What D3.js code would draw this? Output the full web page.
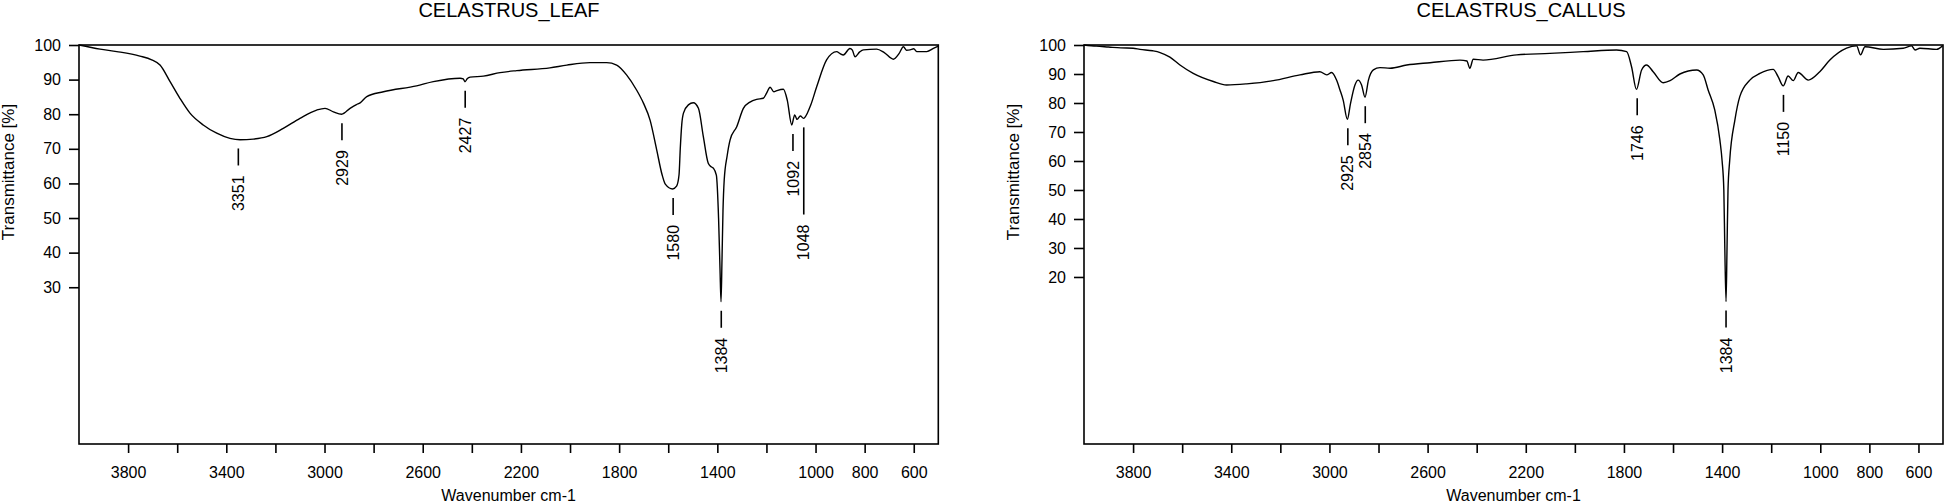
<!DOCTYPE html>
<html>
<head>
<meta charset="utf-8">
<script src="https://cdn.jsdelivr.net/npm/d3@7"></script>
<style>
  html, body { margin: 0; padding: 0; background: #fff; }
  text { font-family: "Liberation Sans", Arial, sans-serif; fill: #000; }
</style>
</head>
<body>
<div id="canvas"></div>
<script>
// ---- data ----
const leafWn = [4000, 3914, 3846, 3752, 3704, 3670, 3629, 3589, 3548, 3494, 3439, 3385, 3344, 3290, 3235, 3168, 3100, 3032, 2998, 2964, 2930, 2896, 2870, 2855, 2828, 2760, 2625, 2557, 2448, 2435, 2428, 2418, 2407, 2353, 2285, 2217, 2082, 2013, 1919, 1851, 1810, 1769, 1729, 1701, 1674, 1647, 1625, 1612, 1582, 1566, 1556, 1551, 1545, 1538, 1518, 1498, 1477, 1457, 1437, 1425, 1416, 1404, 1395, 1389, 1385, 1381, 1377, 1372, 1360, 1348, 1321, 1294, 1267, 1240, 1213, 1200, 1185, 1170, 1158, 1131, 1115, 1097, 1085, 1075, 1062, 1049, 1022, 995, 955, 914, 900, 887, 860, 850, 839, 820, 805, 751, 720, 683, 660, 642, 630, 615, 600, 588, 547, 520, 500];
const leafT = [100, 98.8, 98.1, 96.8, 95.7, 94.2, 89.4, 84.6, 80.3, 76.9, 74.5, 73.0, 72.6, 72.8, 73.5, 75.9, 78.8, 81.2, 81.7, 80.7, 80.0, 81.7, 82.8, 83.3, 85.1, 86.5, 88.2, 89.4, 90.4, 90.2, 89.4, 90.3, 90.7, 91.0, 92.0, 92.6, 93.4, 94.2, 94.9, 94.9, 94.2, 91.3, 87.0, 83.2, 78.3, 69.7, 62.5, 59.8, 58.4, 59.2, 62.5, 70.0, 77.0, 80.3, 82.7, 83.3, 81.7, 73.5, 65.8, 64.8, 64.4, 62.4, 50.0, 35.0, 25.8, 38.0, 52.0, 61.0, 68.0, 72.6, 76.4, 81.7, 83.5, 84.3, 84.6, 86.0, 87.8, 86.5, 86.8, 87.2, 84.0, 76.9, 79.8, 78.5, 79.5, 78.8, 82.2, 88.0, 95.7, 98.1, 97.5, 97.1, 99.0, 98.5, 96.6, 98.0, 98.6, 98.8, 97.8, 95.9, 97.5, 99.5, 98.5, 98.6, 98.9, 98.1, 98.1, 99.0, 99.7];

const callusWn = [4000, 3950, 3900, 3850, 3800, 3772, 3720, 3690, 3650, 3609, 3555, 3473, 3419, 3337, 3229, 3120, 3039, 3011, 2991, 2971, 2957, 2944, 2927, 2914, 2896, 2883, 2869, 2855, 2841, 2821, 2794, 2753, 2685, 2590, 2468, 2440, 2428, 2414, 2374, 2237, 2102, 1966, 1830, 1789, 1769, 1749, 1728, 1708, 1681, 1640, 1612, 1572, 1504, 1477, 1457, 1430, 1409, 1400, 1393, 1389, 1384, 1380, 1376, 1369, 1348, 1328, 1287, 1246, 1192, 1172, 1151, 1131, 1110, 1090, 1049, 1002, 961, 893, 852, 836, 818, 743, 662, 628, 614, 594, 526, 502];
const callusT = [100, 99.6, 99.3, 99.0, 98.9, 98.5, 98.0, 97.4, 95.8, 93.1, 90.2, 87.4, 86.2, 86.6, 87.7, 89.7, 90.8, 89.7, 90.5, 87.9, 84.5, 81.0, 74.4, 79.9, 86.2, 87.9, 86.2, 82.0, 87.9, 91.4, 92.2, 92.0, 93.1, 93.9, 94.8, 94.5, 92.0, 95.1, 94.8, 96.6, 97.1, 97.7, 98.3, 97.7, 92.5, 84.7, 91.4, 93.1, 90.8, 87.0, 87.7, 90.0, 91.4, 89.7, 84.5, 77.6, 67.2, 60.0, 50.0, 30.0, 11.5, 30.0, 50.0, 60.3, 74.1, 82.2, 87.9, 90.2, 91.6, 89.1, 85.9, 89.3, 87.7, 90.5, 87.9, 90.8, 94.8, 98.9, 99.7, 96.6, 99.4, 98.5, 98.9, 99.7, 98.3, 98.9, 98.5, 99.7];

const leafPeakWn = [3351, 2929, 2427, 1580, 1384, 1092, 1048];
const leafPeakT = [72.7, 80.0, 89.4, 58.4, 25.8, 76.9, 78.8];
const callusPeakWn = [2925, 2854, 1746, 1384, 1150];
const callusPeakT = [74.4, 82.0, 84.7, 11.5, 85.9];

const xTicks = [3800, 3600, 3400, 3200, 3000, 2800, 2600, 2400, 2200, 2000, 1800, 1600, 1400, 1200, 1000, 800, 600];
const xTickLabels = [3800, 3400, 3000, 2600, 2200, 1800, 1400, 1000, 800, 600];
const leafYTicks = [30, 40, 50, 60, 70, 80, 90, 100];
const callusYTicks = [20, 30, 40, 50, 60, 70, 80, 90, 100];

const width = 1944;
const height = 504;

const svg = d3.select("#canvas").append("svg")
  .attr("width", width)
  .attr("height", height)
  .style("display", "block");

function drawPanel(opt) {
  const top = 45, bottom = 444;
  const x = d3.scaleLinear().domain([4000, 500]).range([opt.left, opt.right]);
  const y = d3.scaleLinear().domain(opt.yDomain).range([bottom, top]);

  const g = svg.append("g");

  // title
  g.append("text")
    .attr("x", opt.titleX)
    .attr("y", 17)
    .attr("text-anchor", "middle")
    .style("font-size", "20px")
    .text(opt.title);

  // x axis
  const xAxis = g.append("g")
    .attr("transform", `translate(0,${bottom})`)
    .call(d3.axisBottom(x).tickValues(xTicks).tickSize(9).tickPadding(14)
      .tickFormat(d => xTickLabels.includes(d) ? d : ""));
  xAxis.select(".domain").remove();
  xAxis.selectAll("line").attr("stroke", "#000").attr("stroke-width", 1.6);
  xAxis.selectAll("text").style("font-size", "16px").style("font-family", "Liberation Sans, Arial, sans-serif");

  // y axis
  const yAxis = g.append("g")
    .attr("transform", `translate(${opt.left},0)`)
    .call(d3.axisLeft(y).tickValues(opt.yTicks).tickSize(10).tickPadding(8));
  yAxis.select(".domain").remove();
  yAxis.selectAll("line").attr("stroke", "#000").attr("stroke-width", 1.6);
  yAxis.selectAll("text").style("font-size", "16px").style("font-family", "Liberation Sans, Arial, sans-serif");

  // frame
  g.append("rect")
    .attr("x", opt.left)
    .attr("y", top)
    .attr("width", opt.right - opt.left)
    .attr("height", bottom - top)
    .attr("fill", "none")
    .attr("stroke", "#000")
    .attr("stroke-width", 1.6);

  // axis titles
  g.append("text")
    .attr("x", (opt.left + opt.right) / 2)
    .attr("y", 501)
    .attr("text-anchor", "middle")
    .style("font-size", "16px")
    .text("Wavenumber cm-1");

  g.append("text")
    .attr("transform", `translate(${opt.left - 65},172) rotate(-90)`)
    .attr("text-anchor", "middle")
    .style("font-size", "17px")
    .text("Transmittance [%]");

  // spectrum
  const pts = opt.wn.map((w, i) => [w, opt.t[i]]);
  g.append("path")
    .datum(pts)
    .attr("fill", "none")
    .attr("stroke", "#000")
    .attr("stroke-width", 1.4)
    .attr("stroke-linejoin", "round")
    .attr("d", d3.line().x(d => x(d[0])).y(d => y(d[1])).curve(d3.curveMonotoneX));

  // peak marks
  const peaks = opt.peakWn.map((w, i) => ({ w: w, t: opt.peakT[i] }))
    .sort((a, b) => x(a.w) - x(b.w));
  let prev = null;
  peaks.forEach(p => {
    const px = x(p.w);
    const y0 = y(p.t) + 9;
    let y1 = y0 + 17;
    if (prev && px - prev.px < 14 && prev.labelEnd > y0) {
      y1 = Math.max(y1, prev.labelEnd + 18);
    }
    g.append("line")
      .attr("x1", px).attr("x2", px)
      .attr("y1", y0).attr("y2", y1)
      .attr("stroke", "#000")
      .attr("stroke-width", 1.6);
    const lbl = g.append("text")
      .attr("transform", `translate(${px},${y1 + 10}) rotate(-90)`)
      .attr("text-anchor", "end")
      .attr("dy", "0.35em")
      .style("font-size", "16px")
      .text(p.w);
    const len = lbl.node().getComputedTextLength();
    prev = { px: px, labelEnd: y1 + 10 + len };
  });
}

drawPanel({
  title: "CELASTRUS_LEAF", titleX: 509,
  left: 79, right: 938.3,
  yDomain: [-15.3, 100], yTicks: leafYTicks,
  wn: leafWn, t: leafT,
  peakWn: leafPeakWn, peakT: leafPeakT
});

drawPanel({
  title: "CELASTRUS_CALLUS", titleX: 1521,
  left: 1084, right: 1943,
  yDomain: [-37.6, 100], yTicks: callusYTicks,
  wn: callusWn, t: callusT,
  peakWn: callusPeakWn, peakT: callusPeakT
});
</script>
</body>
</html>
